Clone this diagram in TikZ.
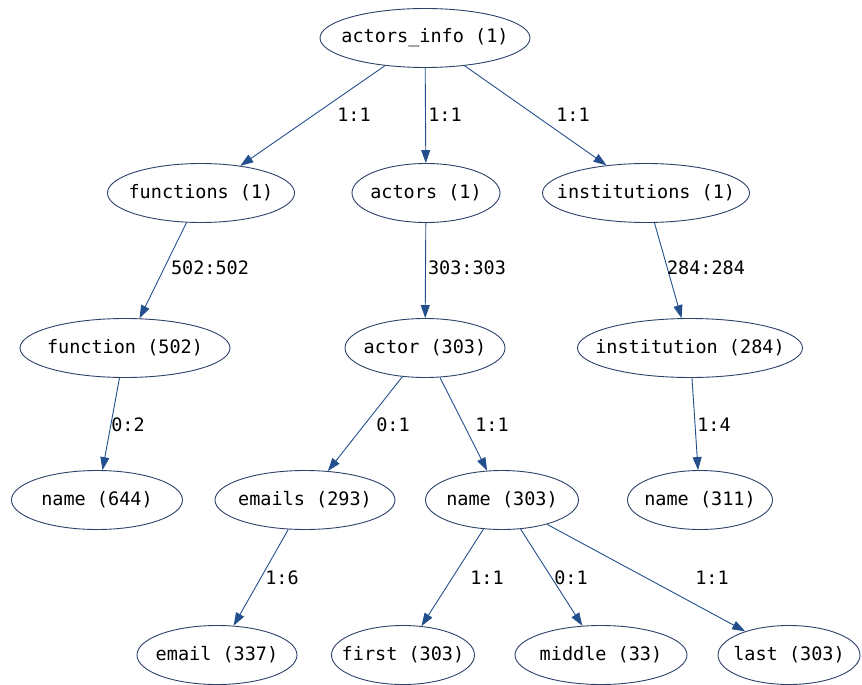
\documentclass[tikz,border=0pt]{standalone}
\usepackage{fontspec}
\setmonofont{DejaVu Sans Mono}
\usetikzlibrary{shapes.geometric,arrows.meta}
\definecolor{edgec}{RGB}{35,80,140}
\definecolor{nodec}{RGB}{45,65,105}
\tikzset{
  x=1pt,y=-1pt,
  nd/.style={ellipse,draw=nodec,line width=0.9pt,fill=white,minimum height=59pt,inner xsep=-20pt,inner ysep=0pt,font=\ttfamily\fontsize{18.5}{20}\selectfont},
  ed/.style={draw=edgec,line width=0.9pt,-{Triangle[length=13pt,width=9pt]}},
  lbl/.style={font=\ttfamily\fontsize{18.5}{20}\selectfont,inner sep=0pt}
}
\begin{document}
\begin{tikzpicture}
\useasboundingbox (0,0) rectangle (862,685);
\fill[white] (0,0) rectangle (862,685);
\node[nd,minimum width=210pt] (ai) at (425,38) {actors\_info (1)};
\node[nd,minimum width=187pt] (fs) at (201,193) {functions (1)};
\node[nd,minimum width=148pt] (as) at (426,193) {actors (1)};
\node[nd,minimum width=207pt] (is) at (646,193) {institutions (1)};
\node[nd,minimum width=210pt] (f) at (125,348) {function (502)};
\node[nd,minimum width=160pt] (a) at (425,348) {actor (303)};
\node[nd,minimum width=225pt] (i) at (690,348) {institution (284)};
\node[nd,minimum width=171pt] (fn) at (97,500) {name (644)};
\node[nd,minimum width=180pt] (es) at (305,500) {emails (293)};
\node[nd,minimum width=153pt] (an) at (502,500) {name (303)};
\node[nd,minimum width=145pt] (in) at (700,500) {name (311)};
\node[nd,minimum width=160pt] (e) at (217,655) {email (337)};
\node[nd,minimum width=143pt] (fi) at (403,655) {first (303)};
\node[nd,minimum width=172pt] (mi) at (601,655) {middle (33)};
\node[nd,minimum width=142pt] (la) at (789,655) {last (303)};
\draw[ed] (ai) -- (fs);
\draw[ed] (ai) -- (as);
\draw[ed] (ai) -- (is);
\draw[ed] (fs) -- (f);
\draw[ed] (as) -- (a);
\draw[ed] (is) -- (i);
\draw[ed] (f) -- (fn);
\draw[ed] (a) -- (es);
\draw[ed] (a) -- (an);
\draw[ed] (i) -- (in);
\draw[ed] (es) -- (e);
\draw[ed] (an) -- (fi);
\draw[ed] (an) -- (mi);
\draw[ed] (an) -- (la);
\node[lbl] (l1) at (354,115) {1:1};
\node[lbl] (l2) at (445,115) {1:1};
\node[lbl] (l3) at (573,115) {1:1};
\node[lbl] (l4) at (210,268) {502:502};
\node[lbl] (l5) at (467,268) {303:303};
\node[lbl] (l6) at (706,268) {284:284};
\node[lbl] (l7) at (128,425) {0:2};
\node[lbl] (l8) at (393,425) {0:1};
\node[lbl] (l9) at (492,425) {1:1};
\node[lbl] (l10) at (714,425) {1:4};
\node[lbl] (l11) at (282,578) {1:6};
\node[lbl] (l12) at (487,578) {1:1};
\node[lbl] (l13) at (571,578) {0:1};
\node[lbl] (l14) at (712,578) {1:1};
\end{tikzpicture}
\end{document}
